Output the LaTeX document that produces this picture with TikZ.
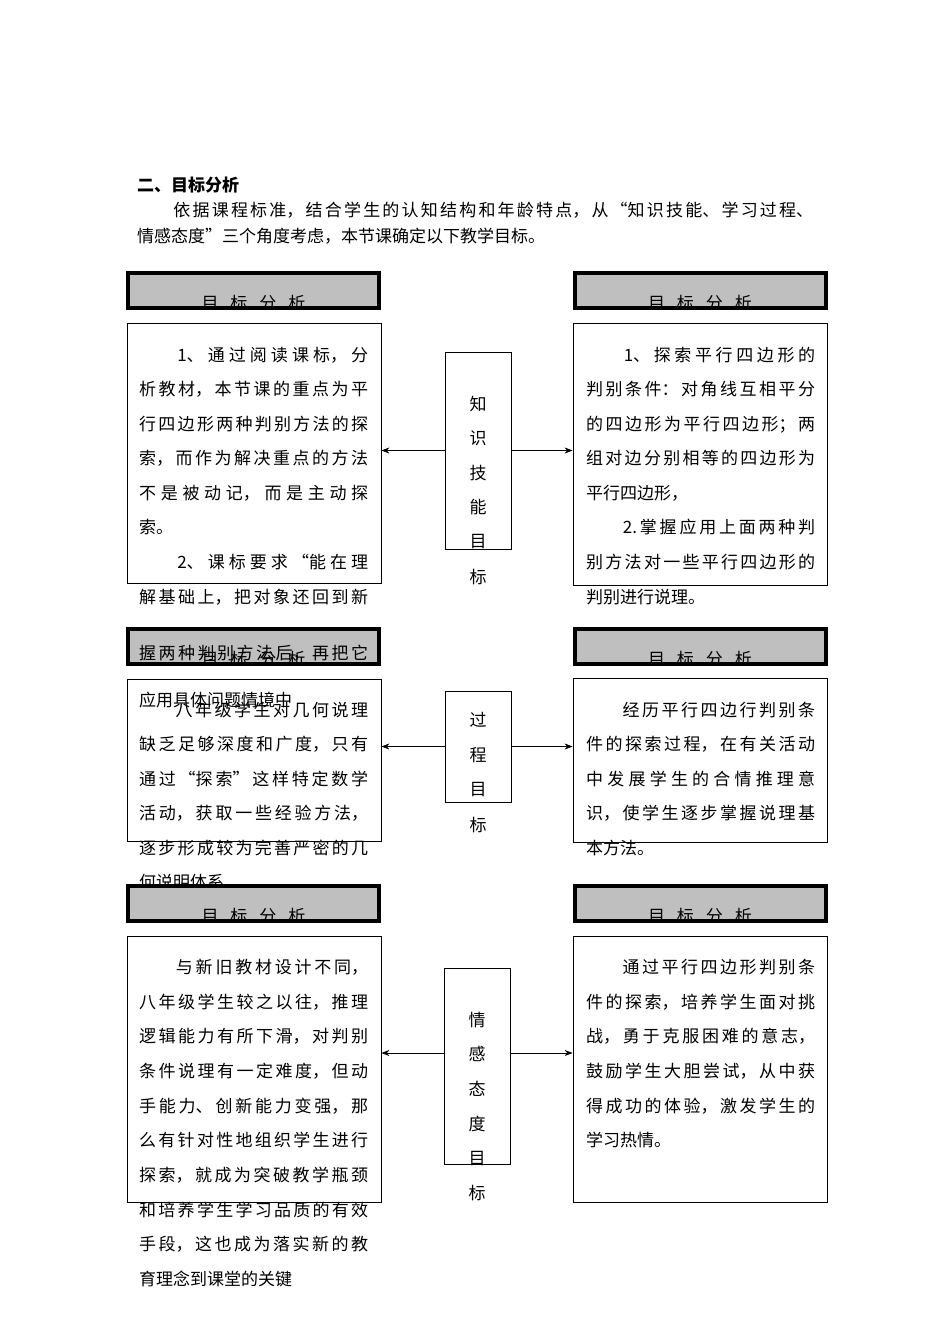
\documentclass[tikz,border=0pt]{standalone}
\usepackage{fontspec}
\setmainfont{Noto Sans CJK SC}
\usetikzlibrary{arrows.meta}
\XeTeXlinebreaklocale "zh"
\XeTeXlinebreakskip=0pt plus 3pt
\tikzset{
  tbox/.style={draw,line width=0.8pt,fill=white,inner sep=0},
  mbox/.style={draw,line width=0.8pt,fill=white,inner sep=0,minimum width=66pt},
  arr/.style={-{Stealth[length=8pt,width=6pt]},line width=0.7pt},
  hdr/.style={draw,line width=4pt,fill=gray!50,inner sep=0,minimum width=251pt,minimum height=35pt},
}
\newcommand\jl[3]{\node[anchor=base west,inner sep=0,text width=229pt,align=justify,font=\fontsize{17}{20}\selectfont] at (#1,#2+6) {\parfillskip=0pt\relax #3\par};}
\newcommand\pl[3]{\node[anchor=base west,inner sep=0,font=\fontsize{17}{20}\selectfont] at (#1,#2+6) {#3};}
\newcommand\hd[3]{\node[hdr] (#1) at (#2,#3) {};
  \begin{scope}\clip (#2-125,#3-17) rectangle (#2+125,#3+16);
  \node[anchor=base,inner sep=0,font=\fontsize{17}{20}\selectfont] at (#2,#3+19) {目\hspace{12pt}标\hspace{12pt}分\hspace{12pt}析};
  \end{scope}}
\newcommand\vc[3]{\node[inner sep=0,font=\fontsize{17}{20}\selectfont] at (#1,#2) {#3};}
\begin{document}
\begin{tikzpicture}[x=1pt,y=-1pt]
\useasboundingbox (0,0) rectangle (950,1344);
% intro
\node[anchor=base west,inner sep=0,font=\fontsize{17}{20}\selectfont\bfseries] (title) at (137,191) {二、目标分析};
\node[anchor=base west,inner sep=0,text width=676pt,align=justify,font=\fontsize{17}{20}\selectfont] (p1) at (137,216) {\parfillskip=0pt\relax　　依据课程标准，结合学生的认知结构和年龄特点，从“知识技能、学习过程、\par};
\node[anchor=base west,inner sep=0,font=\fontsize{17}{20}\selectfont] (p2) at (137,242) {情感态度”三个角度考虑，本节课确定以下教学目标。};
% boxes
\node[tbox,minimum width=254pt,minimum height=260pt] (L1) at (254,453) {};
\node[tbox,minimum width=254pt,minimum height=262pt] (R1) at (700,454) {};
\node[tbox,minimum width=254pt,minimum height=162pt] (L2) at (254,760) {};
\node[tbox,minimum width=254pt,minimum height=164pt] (R2) at (700,760) {};
\node[tbox,minimum width=254pt,minimum height=266pt] (L3) at (254,1069) {};
\node[tbox,minimum width=254pt,minimum height=266pt] (R3) at (700,1069) {};
\node[mbox,minimum height=197pt] (M1) at (478,450.5) {};
\node[mbox,minimum height=111pt] (M2) at (478,746.5) {};
\node[mbox,minimum height=196pt] (M3) at (477,1066) {};
% middle text
\vc{478}{404}{知}\vc{478}{438}{识}\vc{478}{473}{技}\vc{478}{507}{能}\vc{478}{542}{目}\vc{478}{577}{标}
\vc{478}{720}{过}\vc{478}{755}{程}\vc{478}{790}{目}\vc{478}{825}{标}
\vc{477}{1020}{情}\vc{477}{1054}{感}\vc{477}{1089}{态}\vc{477}{1124}{度}\vc{477}{1159}{目}\vc{477}{1193}{标}
% arrows
\draw[arr] (M1.west) -- (M1.west -| L1.east);
\draw[arr] (M1.east) -- (M1.east -| R1.west);
\draw[arr] (M2.west) -- (M2.west -| L2.east);
\draw[arr] (M2.east) -- (M2.east -| R2.west);
\coordinate (a3l) at (M3.west |- 0,1053);
\coordinate (a3r) at (M3.east |- 0,1053);
\draw[arr] (a3l) -- (a3l -| L3.east);
\draw[arr] (a3r) -- (a3r -| R3.west);
% left 1
\jl{139}{355}{　　1、通过阅读课标，分}
\jl{139}{389}{析教材，本节课的重点为平}
\jl{139}{424}{行四边形两种判别方法的探}
\jl{139}{458}{索，而作为解决重点的方法}
\jl{139}{493}{不是被动记，而是主动探}
\pl{139}{527}{索。}
\jl{139}{562}{　　2、课标要求“能在理}
\jl{139}{597}{解基础上，把对象还回到新}
\pl{139}{700}{应用具体问题情境中}
% left 2
\jl{139}{710}{　　八年级学生对几何说理}
\jl{139}{744}{缺乏足够深度和广度，只有}
\jl{139}{779}{通过“探索”这样特定数学}
\jl{139}{813}{活动，获取一些经验方法，}
\jl{139}{848}{逐步形成较为完善严密的几}
\pl{139}{882}{何说明体系}
% left 3
\jl{139}{967}{　　与新旧教材设计不同，}
\jl{139}{1002}{八年级学生较之以往，推理}
\jl{139}{1036}{逻辑能力有所下滑，对判别}
\jl{139}{1071}{条件说理有一定难度，但动}
\jl{139}{1106}{手能力、创新能力变强，那}
\jl{139}{1140}{么有针对性地组织学生进行}
\jl{139}{1175}{探索，就成为突破教学瓶颈}
\jl{139}{1210}{和培养学生学习品质的有效}
\jl{139}{1244}{手段，这也成为落实新的教}
\pl{139}{1279}{育理念到课堂的关键}
% right 1
\jl{586}{355}{　　1、探索平行四边形的}
\jl{586}{389}{判别条件：对角线互相平分}
\jl{586}{424}{的四边形为平行四边形；两}
\jl{586}{458}{组对边分别相等的四边形为}
\pl{586}{493}{平行四边形，}
\jl{586}{527}{　　2.掌握应用上面两种判}
\jl{586}{562}{别方法对一些平行四边形的}
\pl{586}{597}{判别进行说理。}
% right 2
\jl{586}{710}{　　经历平行四边行判别条}
\jl{586}{744}{件的探索过程，在有关活动}
\jl{586}{779}{中发展学生的合情推理意}
\jl{586}{813}{识，使学生逐步掌握说理基}
\pl{586}{848}{本方法。}
% right 3
\jl{586}{967}{　　通过平行四边形判别条}
\jl{586}{1002}{件的探索，培养学生面对挑}
\jl{586}{1036}{战，勇于克服困难的意志，}
\jl{586}{1071}{鼓励学生大胆尝试，从中获}
\jl{586}{1106}{得成功的体验，激发学生的}
\pl{586}{1140}{学习热情。}
% headers
\hd{HL1}{253.5}{290.5}\hd{HR1}{700}{290.5}
\hd{HL2}{253.5}{646}\hd{HR2}{700}{646}
\hd{HL3}{253.5}{903}\hd{HR3}{700}{903}
% overflow line printed across the header, as in the reference
\jl{139}{653}{握两种判别方法后，再把它}
\end{tikzpicture}
\end{document}
